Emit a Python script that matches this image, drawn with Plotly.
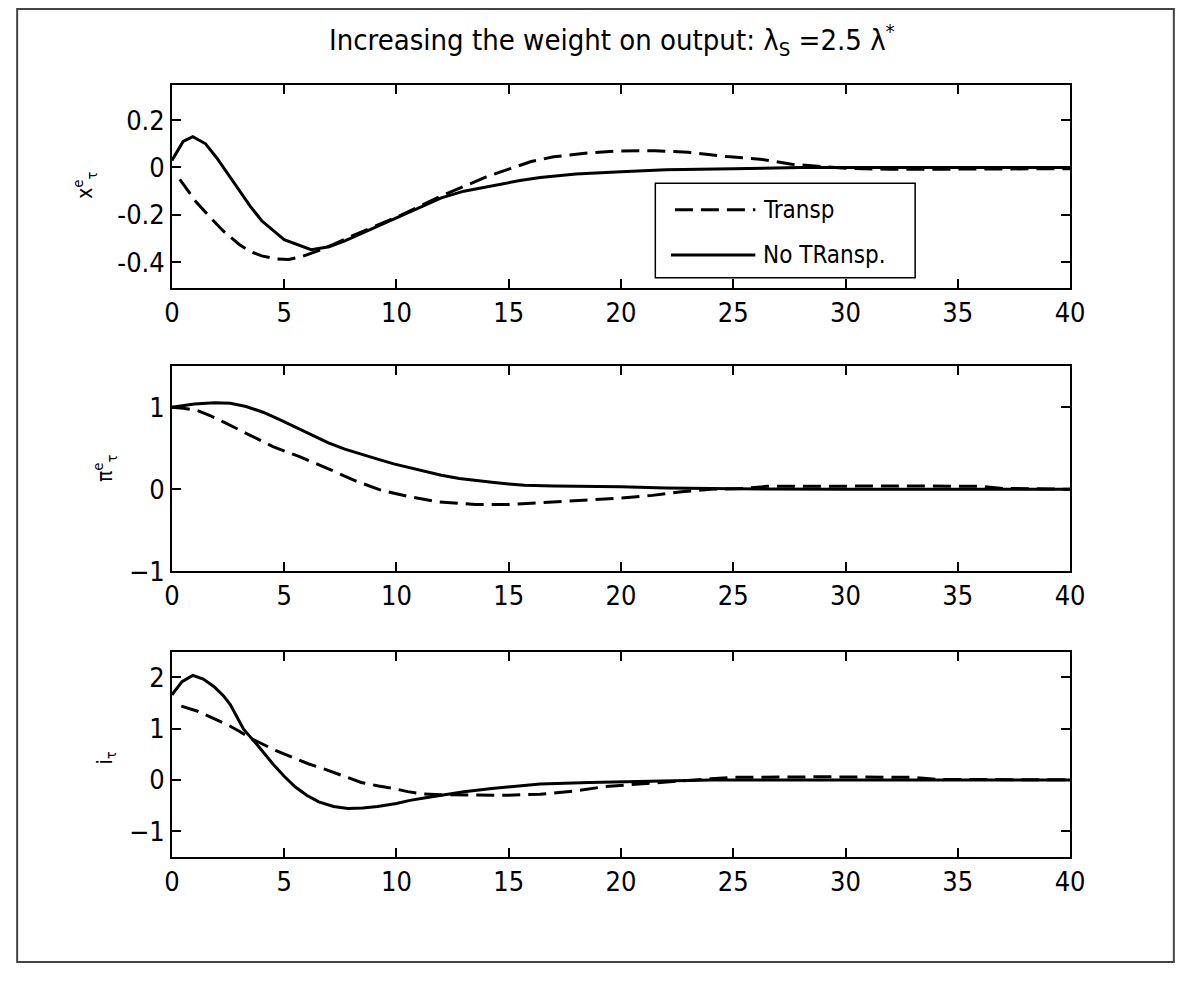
import plotly.graph_objects as go

# ---------------- data ----------------
# Output gap x^e_tau
x_nt_t = [0, 0.5, 0.93, 1.5, 2.0, 2.5, 3.0, 3.5, 4.0, 5.0, 6.2, 7.0, 7.7, 9.0, 10.0, 11.0, 12.0, 13.0, 14.25, 15.5, 16.4, 18.0, 20.0, 22.0, 25.0, 28.0, 32.0, 36.0, 40.0]
x_nt_v = [0.03, 0.11, 0.13, 0.10, 0.04, -0.03, -0.10, -0.165, -0.225, -0.305, -0.347, -0.335, -0.31, -0.255, -0.21, -0.168, -0.128, -0.10, -0.077, -0.055, -0.042, -0.027, -0.018, -0.01, -0.005, 0.0, 0.0, 0.0, 0.0]
x_tr_t = [0.35, 1.08, 1.7, 2.31, 3.0, 3.48, 4.0, 4.64, 5.2, 5.81, 6.5, 7.2, 8.0, 9.0, 10.0, 11.0, 12.0, 13.0, 14.0, 15.0, 16.0, 17.0, 18.6, 20.0, 21.5, 23.0, 24.7, 26.2, 27.6, 29.0, 30.0, 32.0, 35.0, 38.0, 40.0]
x_tr_v = [-0.05, -0.146, -0.21, -0.27, -0.325, -0.354, -0.373, -0.386, -0.388, -0.375, -0.352, -0.325, -0.29, -0.25, -0.21, -0.165, -0.12, -0.08, -0.04, -0.007, 0.025, 0.045, 0.062, 0.070, 0.071, 0.064, 0.046, 0.035, 0.014, 0.003, -0.003, -0.008, -0.008, -0.006, -0.005]

# Inflation pi^e_tau
pi_nt_t = [0, 1.0, 1.9, 2.6, 3.3, 4.06, 4.8, 5.5, 6.2, 6.97, 7.7, 8.43, 9.2, 9.88, 10.6, 11.3, 12.0, 12.8, 13.5, 14.25, 15.0, 15.7, 17.0, 18.6, 20.0, 22.0, 25.0, 30.0, 40.0]
pi_nt_v = [1.0, 1.04, 1.057, 1.05, 1.01, 0.94, 0.85, 0.76, 0.665, 0.565, 0.49, 0.426, 0.365, 0.31, 0.26, 0.21, 0.17, 0.13, 0.105, 0.085, 0.065, 0.05, 0.04, 0.035, 0.03, 0.015, 0.005, 0.0, 0.0]
pi_tr_t = [0, 0.5, 1.15, 1.7, 2.31, 2.8, 3.33, 4.5, 5.66, 6.97, 8.1, 9.3, 10.5, 11.9, 13.5, 15.0, 16.4, 17.9, 19.0, 20.0, 21.4, 22.7, 24.0, 25.5, 26.5, 30.0, 33.0, 36.0, 37.0, 40.0]
pi_tr_v = [1.0, 0.99, 0.96, 0.9, 0.82, 0.75, 0.68, 0.52, 0.40, 0.25, 0.11, -0.01, -0.087, -0.155, -0.185, -0.187, -0.165, -0.135, -0.12, -0.107, -0.075, -0.03, 0.0, 0.01, 0.035, 0.04, 0.04, 0.035, 0.01, 0.0]

# Interest rate i_tau
i_nt_t = [0, 0.45, 0.93, 1.4, 1.88, 2.3, 2.6, 3.19, 3.77, 4.5, 5.0, 5.5, 6.0, 6.54, 7.2, 7.84, 8.5, 9.16, 10.0, 10.6, 11.3, 12.05, 13.0, 14.25, 15.3, 16.4, 18.6, 21.5, 24.0, 40.0]
i_nt_v = [1.66, 1.92, 2.04, 1.97, 1.82, 1.64, 1.47, 0.99, 0.70, 0.31, 0.07, -0.14, -0.30, -0.43, -0.52, -0.56, -0.55, -0.52, -0.46, -0.40, -0.35, -0.30, -0.23, -0.17, -0.12, -0.08, -0.05, -0.03, 0.0, 0.0]
i_tr_t = [0.42, 1.15, 1.8, 2.46, 3.0, 3.48, 4.64, 5.4, 6.1, 6.8, 7.4, 8.43, 9.2, 9.9, 10.5, 11.05, 12.0, 13.5, 15.0, 16.4, 17.9, 19.3, 20.4, 21.8, 23.0, 24.0, 25.0, 29.0, 33.0, 34.0, 40.0]
i_tr_v = [1.44, 1.34, 1.21, 1.08, 0.95, 0.82, 0.57, 0.43, 0.31, 0.21, 0.12, -0.05, -0.12, -0.17, -0.23, -0.27, -0.29, -0.30, -0.30, -0.28, -0.22, -0.13, -0.09, -0.05, -0.01, 0.02, 0.05, 0.06, 0.05, 0.01, 0.0]

series_names = ["Transp", "No TRansp."]
x_ticks = [0, 5, 10, 15, 20, 25, 30, 35, 40]
y1_ticks = [-0.4, -0.2, 0, 0.2]
y1_ticktext = ["-0.4", "-0.2", "0", "0.2"]
y2_ticks = [-1, 0, 1]
y3_ticks = [-1, 0, 1, 2]
title_text = "Increasing the weight on output: λ<sub>S</sub> =2.5 λ<sup>*</sup>"
ylabels = ["x<sup>e</sup><sub>τ</sub>", "π<sup>e</sup><sub>τ</sub>", "i<sub>τ</sub>"]

# ---------------- figure ----------------
OFF = 8                    # page body margin
W, H = 1198 - 2 * OFF, 986 - 2 * OFF
FONT = "DejaVu Sans Condensed, Liberation Sans Narrow, Liberation Sans, Arial, sans-serif"

fig = go.Figure()

def px_x(p):
    return (p - OFF) / W

def px_y(p):
    return 1 - (p - OFF) / H

xdom = [px_x(167), px_x(1083)]
ydoms = [
    [px_y(292), px_y(86)],
    [px_y(580), px_y(372)],
    [px_y(870), px_y(662)],
]
yranges = [[-0.507, 0.349], [-1, 1.5], [-1.5, 2.5]]

DASH = "18px,8px"
dash_style = dict(color="black", width=3, dash=DASH)
solid_style = dict(color="black", width=3)

data = [
    (x_tr_t, x_tr_v, x_nt_t, x_nt_v),
    (pi_tr_t, pi_tr_v, pi_nt_t, pi_nt_v),
    (i_tr_t, i_tr_v, i_nt_t, i_nt_v),
]

for k, (tt, tv, nt, nv) in enumerate(data):
    xa = "x" if k == 0 else f"x{k+1}"
    ya = "y" if k == 0 else f"y{k+1}"
    fig.add_trace(go.Scatter(x=tt, y=tv, mode="lines", line=dash_style, name=series_names[0],
                             showlegend=False, xaxis=xa, yaxis=ya))
    fig.add_trace(go.Scatter(x=nt, y=nv, mode="lines", line=solid_style, name=series_names[1],
                             showlegend=False, xaxis=xa, yaxis=ya))

axis_common = dict(
    showline=True, linecolor="black", linewidth=1.5, mirror="ticks",
    ticks="inside", ticklen=9, tickwidth=1.5, tickcolor="black",
    showgrid=False, zeroline=False,
    tickfont=dict(family=FONT, size=27, color="black"),
)

ytickcfg = [
    dict(tickvals=y1_ticks, ticktext=y1_ticktext),
    dict(tickvals=y2_ticks),
    dict(tickvals=y3_ticks),
]

layout = dict(
    width=W, height=H,
    margin=dict(l=0, r=0, t=0, b=0),
    paper_bgcolor="white", plot_bgcolor="white",
    showlegend=False,
)
for k in range(3):
    xk = "xaxis" if k == 0 else f"xaxis{k+1}"
    yk = "yaxis" if k == 0 else f"yaxis{k+1}"
    anchor_y = "y" if k == 0 else f"y{k+1}"
    anchor_x = "x" if k == 0 else f"x{k+1}"
    layout[xk] = dict(domain=xdom, range=[0, 40], tickvals=x_ticks, anchor=anchor_y,
                      ticklabelstandoff=0, **axis_common)
    layout[yk] = dict(domain=ydoms[k], range=yranges[k], anchor=anchor_x,
                      ticklabelstandoff=0, **ytickcfg[k], **axis_common)

fig.update_layout(**layout)

# title
fig.add_annotation(text=title_text, x=px_x(616), y=px_y(40), xref="paper", yref="paper",
                   showarrow=False, xanchor="center", yanchor="middle",
                   font=dict(family=FONT, size=29, color="black"))

# y labels
label_pos = [(78, 188), (98, 475), (100, 770)]
for lab, (lx, ly) in zip(ylabels, label_pos):
    fig.add_annotation(text=lab, x=px_x(lx), y=px_y(ly), xref="paper", yref="paper",
                       showarrow=False, textangle=-90, xanchor="center", yanchor="middle",
                       font=dict(family=FONT, size=21, color="black"))

# legend box (drawn inside the first panel)
fig.add_shape(type="rect", xref="paper", yref="paper",
              x0=px_x(660), x1=px_x(925), y0=px_y(282), y1=px_y(186),
              line=dict(color="black", width=1.5), fillcolor="white", layer="above")
fig.add_shape(type="line", xref="paper", yref="paper",
              x0=px_x(680), x1=px_x(762), y0=px_y(213), y1=px_y(213),
              line=dict(color="black", width=3, dash=DASH), layer="above")
fig.add_shape(type="line", xref="paper", yref="paper",
              x0=px_x(676), x1=px_x(762), y0=px_y(259), y1=px_y(259),
              line=dict(color="black", width=3), layer="above")
for name, ly in zip(series_names, [213, 259]):
    fig.add_annotation(text=name, x=px_x(768), y=px_y(ly), xref="paper", yref="paper",
                       showarrow=False, xanchor="left", yanchor="middle",
                       font=dict(family=FONT, size=24, color="black"))

# outer frame
fig.add_shape(type="rect", xref="paper", yref="paper",
              x0=0.001, x1=0.999, y0=0.001, y1=0.999,
              line=dict(color="#444444", width=2), fillcolor="rgba(0,0,0,0)")

fig.write_html("out.html")
